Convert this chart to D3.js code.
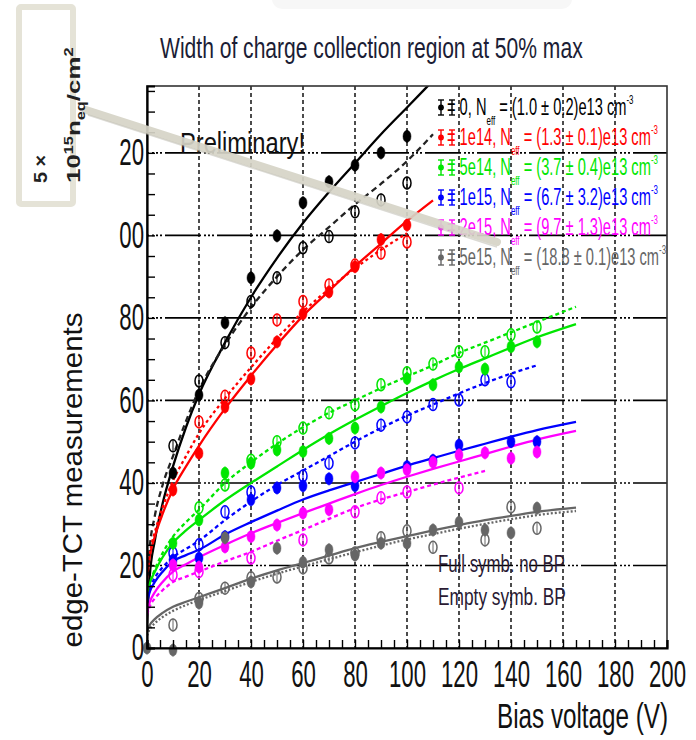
<!DOCTYPE html>
<html>
<head>
<meta charset="utf-8">
<script src="https://cdn.jsdelivr.net/npm/d3@7"></script>
<style>
  body { margin: 0; background: #fff; }
  text { font-family: "Liberation Sans", Arial, sans-serif; }
</style>
</head>
<body>
<div id="container"></div>
<script>
/* DATA */
// bias voltages of the measured points (V)
const voltages = [0, 10, 20, 30, 40, 50, 60, 70, 80, 90, 100, 110, 120, 130, 140, 150];

// full symbols = no BP, empty symbols = BP
const full0 = [null, 42.4, 61.3, 78.8, 89.7, 99.9, 107.9, 113, 117, 120, 124, null, null, null, null, null];
const empty0 = [null, 49, 64.7, 74, 84, 89.7, 97, 99.7, 105.7, 108.6, 112.7, null, null, null, null, null];
const full1e14 = [null, 38.3, 47.2, 58.4, 65.2, 74.2, 81, 86.3, 92.4, 99, 102.5, null, null, null, null, null];
const empty1e14 = [null, null, 54.8, 61, 71.5, 79.5, 84, 88, 92.8, 95.7, 98.4, null, null, null, null, null];
const full5e14 = [null, 25.4, 31, 42.4, 44.8, 48, 47.6, 50.8, 53.3, 58.4, 65.3, 63.8, 68.1, 67.6, 73, 74.2];
const empty5e14 = [null, null, 34, 39.5, 45.5, 50, 53.3, 57, 58.9, 63.8, 66.7, 68.8, 71.8, 71.8, 75.9, 77.8];
const full1e15 = [null, 21.3, 21.8, 27, 35.9, 38.8, 39.3, 41, 39.3, null, 44, 45.5, 49.2, null, 50, 50];
const empty1e15 = [null, 23, 25, 33, 37.8, null, 41.7, 44.8, 49.7, 54, 56, 59, 60.1, 65, 64.5, null];
const full2e15 = [null, 20.1, 19.6, 24.5, 27, 29.8, 32.7, 33.5, 41.5, 42.4, 43.2, 45, 46.8, 47.3, 46, 47.5];
const empty2e15 = [null, 17.7, 18.5, null, 21.8, null, 26.2, null, 33, 36.4, 37.8, null, 38.8, null, null, null];
const full5e15 = [0, -0.5, 10.9, 26.7, 16, 24.2, 20.8, 23.8, 22.5, 25.4, 25.4, 28.6, 30.5, 28.6, 27.9, 33.9];
const empty5e15 = [null, 5.6, 12, 14.5, 17, 17.2, 19.4, 21.8, 23, 26.7, 28.4, 24.4, null, 26.2, 34.2, 29];

// fit curves at these voltages
const fitVoltages = [0, 1, 3, 6, 10, 15, 20, 30, 40, 50, 60, 70, 80, 90, 100, 110, 120, 130, 140, 150, 165];
const fitNoBP0 = [6, 17, 26, 35, 44, 53.5, 61.5, 74, 85, 94.5, 103, 110.5, 117.5, 124.5, 131, 137.5, null, null, null, null, null];
const fitBP0 = [15, 24, 32, 39.5, 46.5, 55, 62.5, 73.5, 82.5, 90, 96.5, 102, 107.5, 112.5, 118, 124.5, null, null, null, null, null];
const fitNoBP1e14 = [17, 22, 27, 32.5, 38.5, 44, 49, 58, 66, 73.5, 80.5, 86.5, 92.5, 98, 103.5, 108.5, null, null, null, null, null];
const fitBP1e14 = [17, 22.5, 28, 34, 40.5, 46.5, 52, 60.5, 68, 75, 81.5, 87, 92, 96.5, 100.5, null, null, null, null, null, null];
const fitNoBP5e14 = [13, 15.5, 18.5, 22, 25.5, 28.5, 31, 35.8, 40, 44, 48, 51.8, 55.3, 58.6, 61.8, 64.8, 67.6, 70.2, 72.8, 75.3, 78.5];
const fitBP5e14 = [13, 15.5, 19, 23, 27, 30.5, 33.5, 40, 45, 49.5, 53.5, 57, 60, 63, 65.8, 68.5, 71.5, 74, 76.5, 79, 82.7];
const fitNoBP1e15 = [11, 13.5, 16, 18.5, 21, 22.5, 23.8, 27.5, 30.5, 33.3, 36, 38.2, 40.2, 42.2, 44.2, 46, 47.8, 49.5, 51.2, 52.8, 54.8];
const fitBP1e15 = [11, 14, 17, 19.5, 22, 24, 26, 31, 35.5, 39.5, 43, 46.5, 50, 53.3, 56.3, 59, 61.7, 64.2, 66.5, 68.5, null];
const fitNoBP2e15 = [8.5, 11, 13.5, 16, 18.5, 20.3, 22, 25, 27.8, 30.3, 32.7, 35, 37.3, 39.5, 41.5, 43.4, 45.2, 47, 48.8, 50.5, 52.6];
const fitBP2e15 = [8, 10, 12, 14, 16, 17.3, 18.5, 21, 23.3, 26, 28.6, 31.3, 33.9, 36, 37.8, 39.6, 41.3, 42.9, null, null, null];
const fitNoBP5e15 = [4, 5.5, 7, 8.5, 10, 11.2, 12.3, 14.5, 16.8, 18.8, 20.6, 22.4, 24.2, 25.7, 27.1, 28.5, 29.8, 31, 32, 33, 34];
const fitBP5e15 = [3, 4.5, 6, 7.5, 9, 10.4, 11.6, 13.8, 16, 18, 19.8, 21.5, 23.2, 24.8, 26.3, 27.6, 28.9, 30.1, 31.2, 32.2, 33.2];

// legend texts
const fluences = ["0", "1e14", "5e14", "1e15", "2e15", "5e15"];
const neffValues = ["(1.0 ± 0.2)", "(1.3 ± 0.1)", "(3.7 ± 0.4)", "(6.7 ± 3.2)", "(9.7 ± 1.3)", "(18.8 ± 0.1)"];

const colors = ["#000000", "#ff0000", "#00e600", "#0000ff", "#ff00ff", "#666666"];
const bpDash = ["6,4", "3,3", "4,3", "4,3", "4,3", "2,2"];

const fullSets = [full0, full1e14, full5e14, full1e15, full2e15, full5e15];
const emptySets = [empty0, empty1e14, empty5e14, empty1e15, empty2e15, empty5e15];
const fitNoBP = [fitNoBP0, fitNoBP1e14, fitNoBP5e14, fitNoBP1e15, fitNoBP2e15, fitNoBP5e15];
const fitBP = [fitBP0, fitBP1e14, fitBP5e14, fitBP1e15, fitBP2e15, fitBP5e15];

/* LAYOUT */
const width = 696, height = 740,
  margin = { top: 86, right: 29, bottom: 92, left: 147 };

const xScale = d3.scaleLinear().domain([0, 200]).range([margin.left, width - margin.right]);
const yScale = d3.scaleLinear().domain([0, 136.2]).range([height - margin.bottom, margin.top]);

const svg = d3.select('#container').append('svg')
  .attr('width', width)
  .attr('height', height);

svg.append('rect').attr('width', width).attr('height', height).attr('fill', '#fff');

// faint smudge at the top of the slide
svg.append('rect').attr('x', 272).attr('y', -12).attr('width', 300).attr('height', 21)
  .attr('rx', 10).attr('fill', '#f7f7f7');

svg.append('clipPath').attr('id', 'plot-clip')
  .append('rect')
  .attr('x', margin.left).attr('y', margin.top)
  .attr('width', width - margin.left - margin.right)
  .attr('height', height - margin.top - margin.bottom);

// squeezed text: the slide is horizontally compressed, so scale every label to its width
function label(parent, x, y, str, size, targetWidth, opts = {}) {
  const g = parent.append('g');
  const t = g.append('text')
    .attr('text-anchor', opts.anchor || 'start')
    .attr('fill', opts.color || '#111')
    .style('font-size', size + 'px')
    .style('font-weight', opts.bold ? 'bold' : 'normal')
    .text(str);
  const w = t.node().getBBox().width;
  g.attr('transform', `translate(${x},${y}) ${opts.rotate ? 'rotate(-90)' : ''} scale(${targetWidth / w},1)`);
  return g;
}

/* GRID */
const grid = svg.append('g');
grid.selectAll('line.vgrid')
  .data(d3.range(20, 200, 20))
  .join('line')
  .attr('class', 'vgrid')
  .attr('x1', d => xScale(d)).attr('x2', d => xScale(d))
  .attr('y1', margin.top).attr('y2', height - margin.bottom)
  .attr('stroke', '#000').attr('stroke-width', 1.4)
  .attr('stroke-dasharray', '4,3');

grid.selectAll('line.hgrid')
  .data(d3.range(20, 136, 20))
  .join('line')
  .attr('class', 'hgrid')
  .attr('x1', margin.left).attr('x2', width - margin.right)
  .attr('y1', d => yScale(d)).attr('y2', d => yScale(d))
  .attr('stroke', '#000').attr('stroke-width', 1.6)
  .attr('stroke-dasharray', '36,3,2,2,2,2,2,3')
  .attr('stroke-dashoffset', 34);

/* FIT LINES */
const lineGen = d3.line()
  .defined(d => d[1] !== null)
  .x(d => xScale(d[0]))
  .y(d => yScale(d[1]))
  .curve(d3.curveMonotoneX);

const lines = svg.append('g').attr('clip-path', 'url(#plot-clip)');
fitNoBP.forEach((vals, i) => {
  lines.append('path')
    .datum(fitVoltages.map((v, j) => [v, vals[j]]))
    .attr('d', lineGen)
    .attr('fill', 'none')
    .attr('stroke', colors[i])
    .attr('stroke-width', 2.3);
});
fitBP.forEach((vals, i) => {
  lines.append('path')
    .datum(fitVoltages.map((v, j) => [v, vals[j]]))
    .attr('d', lineGen)
    .attr('fill', 'none')
    .attr('stroke', i === 0 ? '#222' : colors[i])
    .attr('stroke-width', 2.3)
    .attr('stroke-dasharray', bpDash[i]);
});

/* POINTS */
const points = svg.append('g');
function drawPoints(sets, filled) {
  sets.forEach((vals, i) => {
    const pts = voltages.map((v, j) => [v, vals[j]]).filter(d => d[1] !== null);
    const g = points.append('g');
    g.selectAll('line')
      .data(pts)
      .join('line')
      .attr('x1', d => xScale(d[0])).attr('x2', d => xScale(d[0]))
      .attr('y1', d => yScale(d[1]) - 6.5).attr('y2', d => yScale(d[1]) + 6.5)
      .attr('stroke', colors[i]).attr('stroke-width', 1);
    g.selectAll('ellipse')
      .data(pts)
      .join('ellipse')
      .attr('cx', d => xScale(d[0]))
      .attr('cy', d => yScale(d[1]))
      .attr('rx', 4).attr('ry', 6)
      .attr('fill', filled ? colors[i] : 'none')
      .attr('stroke', colors[i])
      .attr('stroke-width', filled ? 0.5 : 1.5);
  });
}
drawPoints(emptySets, false);
drawPoints(fullSets, true);

/* FRAME AND AXES */
svg.append('rect')
  .attr('x', margin.left).attr('y', margin.top)
  .attr('width', width - margin.left - margin.right)
  .attr('height', height - margin.top - margin.bottom)
  .attr('fill', 'none').attr('stroke', '#333').attr('stroke-width', 1.6);

const xAxis = d3.axisBottom(xScale)
  .tickValues(d3.range(0, 201, 5))
  .tickSize(-8)
  .tickPadding(13)
  .tickFormat(d => d % 20 === 0 ? d : '');

const yAxis = d3.axisLeft(yScale)
  .tickValues(d3.range(0, 136, 5))
  .tickSize(-8)
  .tickPadding(5)
  .tickFormat(d => d % 20 === 0 ? (d >= 100 ? String(d).slice(1) : d) : '');

const gx = svg.append('g')
  .attr('transform', `translate(0,${height - margin.bottom})`)
  .call(xAxis);
const gy = svg.append('g')
  .attr('transform', `translate(${margin.left},0)`)
  .call(yAxis);

[gx, gy].forEach(g => {
  g.select('.domain').attr('stroke', '#000').attr('stroke-width', 2.2);
  g.selectAll('.tick line').attr('stroke', '#000').attr('stroke-width', 1.4);
  g.selectAll('.tick text')
    .style('font-size', '37px')
    .attr('fill', '#111')
    .attr('transform', 'scale(0.6,1)');
});

/* TEXTS */
label(svg, 160, 58, 'Width of charge collection region at 50% max', 30, 423, { color: '#1b1d35' });
label(svg, 180, 153, 'Preliminary!', 29, 125);
label(svg, 668, 728, 'Bias voltage (V)', 36, 171, { anchor: 'end' });
label(svg, 82, 480, 'edge-TCT measurements', 28, 335, { anchor: 'middle', rotate: true });
label(svg, 438, 572, 'Full symb. no BP', 24, 127, { color: '#2a1a33' });
label(svg, 438, 605, 'Empty symb. BP', 24, 128, { color: '#2a1a33' });

/* LEGEND */
const legend = svg.append('g');
const legendTexts = [];
fluences.forEach((f, i) => {
  const yb = 115 + i * 30;
  const g = legend.append('g');
  const t = g.append('text').attr('fill', colors[i]).style('font-size', '24px');
  t.append('tspan').text(`= ${f}, N`);
  t.append('tspan').attr('dy', 10).style('font-size', '13px').text('eff');
  t.append('tspan').attr('dy', -10).text(` = ${neffValues[i]}e13 cm`);
  t.append('tspan').attr('dy', -11).style('font-size', '13px').text('-3');
  legendTexts.push(g);
  // error-bar style markers
  [441, 452].forEach((mx, k) => {
    const m = legend.append('g').attr('stroke', colors[i]).attr('stroke-width', 1.4);
    m.append('line').attr('x1', mx).attr('x2', mx).attr('y1', yb - 15).attr('y2', yb);
    m.append('line').attr('x1', mx - 3).attr('x2', mx + 3).attr('y1', yb - 15).attr('y2', yb - 15);
    m.append('line').attr('x1', mx - 3).attr('x2', mx + 3).attr('y1', yb).attr('y2', yb);
    if (k === 0) m.append('circle').attr('cx', mx).attr('cy', yb - 7.5).attr('r', 2.2).attr('fill', colors[i]);
  });
});
// squeeze legend so the red entry spans its width in the picture
const legendScale = 211 / legendTexts[1].select('text').node().getBBox().width;
legendTexts.forEach((g, j) => {
  g.attr('transform', `translate(447,${115 + j * 30}) scale(${legendScale},1)`);
});

/* OVERLAY CALLOUT */
const callout = svg.append('g');
callout.append('line')
  .attr('x1', 86).attr('y1', 110).attr('x2', 497).attr('y2', 242)
  .attr('stroke', '#d6d4c7').attr('stroke-width', 8).attr('stroke-linecap', 'round')
  .attr('opacity', 0.92);
callout.append('line')
  .attr('x1', 88).attr('y1', 115).attr('x2', 497).attr('y2', 247)
  .attr('stroke', '#b8b6aa').attr('stroke-width', 1.5).attr('opacity', 0.5);

callout.append('rect')
  .attr('x', 19).attr('y', 7).attr('width', 54).attr('height', 197).attr('rx', 2)
  .attr('fill', '#fff').attr('stroke', '#e5e3d7').attr('stroke-width', 6);

label(callout, 47, 183, '5 ×', 18, 28, { bold: true, rotate: true, color: '#222' });
{
  const g = callout.append('g');
  const t = g.append('text').attr('fill', '#222').style('font-size', '19px').style('font-weight', 'bold');
  t.append('tspan').text('10');
  t.append('tspan').attr('dy', -7).style('font-size', '12px').text('15');
  t.append('tspan').attr('dy', 7).text('n');
  t.append('tspan').attr('dy', 5).style('font-size', '12px').text('eq');
  t.append('tspan').attr('dy', -5).text('/cm');
  t.append('tspan').attr('dy', -7).style('font-size', '12px').text('2');
  const w = t.node().getBBox().width;
  g.attr('transform', `translate(80,183) rotate(-90) scale(${136 / w},1)`);
}
</script>
</body>
</html>
